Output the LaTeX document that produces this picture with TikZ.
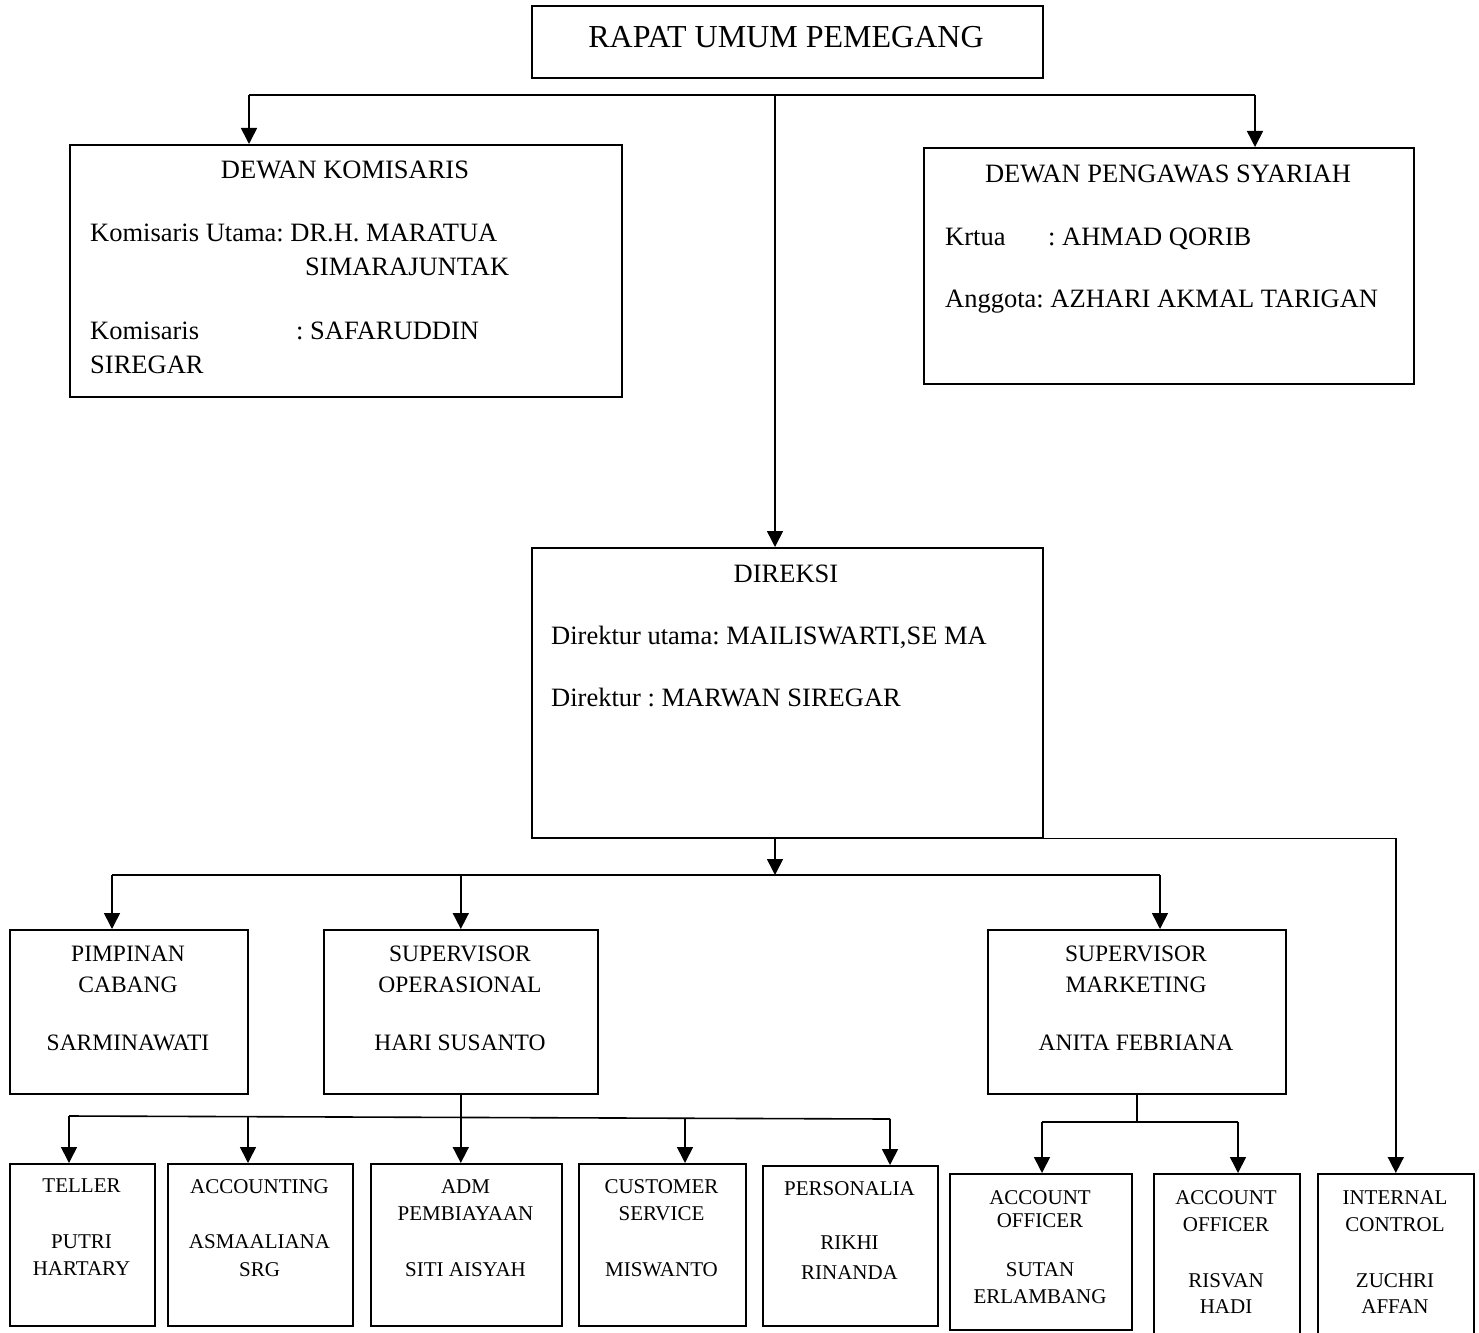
\documentclass[tikz,border=0pt]{standalone}
\usepackage{fontspec}
\setmainfont{Liberation Serif}
\usetikzlibrary{arrows.meta}
\frenchspacing
\begin{document}
\begin{tikzpicture}[x=1pt,y=-1pt,
  box/.style={draw, line width=1.6pt, inner sep=0pt, anchor=north west},
  conn/.style={line width=1.6pt},
  arr/.style={conn, -{Triangle[width=16pt,length=16pt]}},
  ttl/.style={inner sep=0pt, anchor=base, font=\fontsize{32}{38}\selectfont},
  big/.style={inner sep=0pt, anchor=base west, font=\fontsize{26.5}{32}\selectfont},
  mid/.style={inner sep=0pt, align=center, anchor=north, font=\fontsize{23.5}{31}\selectfont},
  sml/.style={inner sep=0pt, align=center, anchor=north, font=\fontsize{21}{27.5}\selectfont}]
\useasboundingbox (0,0) rectangle (1479,1332);

% boxes
\node[box, minimum width=511pt, minimum height=72pt] (rups) at (531,5) {};
\node[box, minimum width=552pt, minimum height=252pt] (dk) at (69,144) {};
\node[box, minimum width=490pt, minimum height=236pt] (dps) at (923,147) {};
\node[box, minimum width=511pt, minimum height=290pt] (dir) at (531,547) {};
\node[box, minimum width=238pt, minimum height=164pt] (pc) at (9,929) {};
\node[box, minimum width=274pt, minimum height=164pt] (so) at (323,929) {};
\node[box, minimum width=298pt, minimum height=164pt] (sm) at (987,929) {};
\node[box, minimum width=145pt, minimum height=162pt] (tl) at (9,1163) {};
\node[box, minimum width=185pt, minimum height=162pt] (ac) at (167,1163) {};
\node[box, minimum width=191pt, minimum height=162pt] (adm) at (370,1163) {};
\node[box, minimum width=167pt, minimum height=162pt] (cs) at (578,1163) {};
\node[box, minimum width=175pt, minimum height=160pt] (pr) at (762,1165) {};
\node[box, minimum width=182pt, minimum height=156pt] (ao1) at (949,1173) {};
\node[box, minimum width=146pt, minimum height=170pt] (ao2) at (1153,1173) {};
\node[box, minimum width=156pt, minimum height=170pt] (ic) at (1317,1173) {};

% texts
\node[ttl] (rups-t) at (786,48) {RAPAT UMUM PEMEGANG};

\node[big, anchor=base] (dk-t) at (345,179) {DEWAN KOMISARIS};
\node[big] (dk-1) at (90,241) {Komisaris Utama: DR.H. MARATUA};
\node[big] (dk-2) at (305,275) {SIMARAJUNTAK};
\node[big] (dk-3) at (90,339) {Komisaris};
\node[big] (dk-4) at (296,339) {: SAFARUDDIN};
\node[big] (dk-5) at (90,373) {SIREGAR};

\node[big, anchor=base] (dps-t) at (1168,183) {DEWAN PENGAWAS SYARIAH};
\node[big] (dps-1) at (945,245) {Krtua};
\node[big] (dps-2) at (1048,245) {: AHMAD QORIB};
\node[big] (dps-3) at (945,307) {Anggota: AZHARI AKMAL TARIGAN};

\node[big, anchor=base] (dir-t) at (786,582) {DIREKSI};
\node[big] (dir-1) at (551,644) {Direktur utama: MAILISWARTI,SE MA};
\node[big] (dir-2) at (551,706) {Direktur : MARWAN SIREGAR};

\node[mid] (pc-t) at (128,946) {PIMPINAN\\CABANG\\[27pt]SARMINAWATI};
\node[mid] (so-t) at (460,946) {SUPERVISOR\\OPERASIONAL\\[27pt]HARI SUSANTO};
\node[mid] (sm-t) at (1136,946) {SUPERVISOR\\MARKETING\\[27pt]ANITA FEBRIANA};

\node[sml] (tl-t) at (81.5,1179) {TELLER\\[28pt]PUTRI\\HARTARY};
\node[sml] (ac-t) at (259.5,1179) {ACCOUNTING\\[28pt]ASMAALIANA\\SRG};
\node[sml] (adm-t) at (465.5,1179) {ADM\\PEMBIAYAAN\\[28pt]SITI AISYAH};
\node[sml] (cs-t) at (661.5,1179) {CUSTOMER\\SERVICE\\[28pt]MISWANTO};
\node[sml] (pr-t) at (849.5,1181) {PERSONALIA\\[27pt]RIKHI\\[2pt]RINANDA};
\node[sml] (ao1-t) at (1040,1190) {ACCOUNT\\[-4pt]OFFICER\\[21pt]SUTAN\\ERLAMBANG};
\node[sml] (ao2-t) at (1226,1190) {ACCOUNT\\OFFICER\\[28pt]RISVAN\\[-1pt]HADI};
\node[sml] (ic-t) at (1395,1190) {INTERNAL\\CONTROL\\[28pt]ZUCHRI\\[-1pt]AFFAN};

% connectors top
\coordinate (j0) at (775,95);
\coordinate (jl) at (249,95);
\coordinate (jr) at (1255,95);
\draw[conn] (jl) -- (jr);
\draw[arr] (jl) -- (jl |- dk.north);
\draw[arr] (jr) -- (jr |- dps.north);
\draw[arr] (j0) -- (j0 |- dir.north);

% below direksi
\coordinate (d1) at (775,875);
\coordinate (pl) at (112,875);
\coordinate (pr1) at (1160,875);
\draw[arr] (dir.south -| d1) -- (d1);
\draw[conn] (pl) -- (pr1);
\draw[arr] (pl) -- (pl |- pc.north);
\draw[arr] (so.north |- d1) -- (so.north);
\draw[arr] (pr1) -- (pr1 |- sm.north);
\draw[arr] (dir.south east) -| (ic.north);

% below supervisor operasional
\coordinate (q1) at (69,1116);
\coordinate (q2) at (248,1117);
\coordinate (q4) at (685,1118);
\coordinate (q5) at (890,1119);
\draw[conn] (q1) -- (q5);
\draw[arr] (q1) -- (q1 |- tl.north);
\draw[arr] (q2) -- (q2 |- ac.north);
\draw[arr] (so.south) -- (so.south |- adm.north);
\draw[arr] (q4) -- (q4 |- cs.north);
\draw[arr] (q5) -- (q5 |- pr.north);

% below supervisor marketing
\coordinate (ml) at (1042,1122);
\coordinate (mr) at (1238,1122);
\draw[conn] (sm.south) -- (sm.south |- ml);
\draw[conn] (ml) -- (mr);
\draw[arr] (ml) -- (ml |- ao1.north);
\draw[arr] (mr) -- (mr |- ao2.north);
\end{tikzpicture}
\end{document}
